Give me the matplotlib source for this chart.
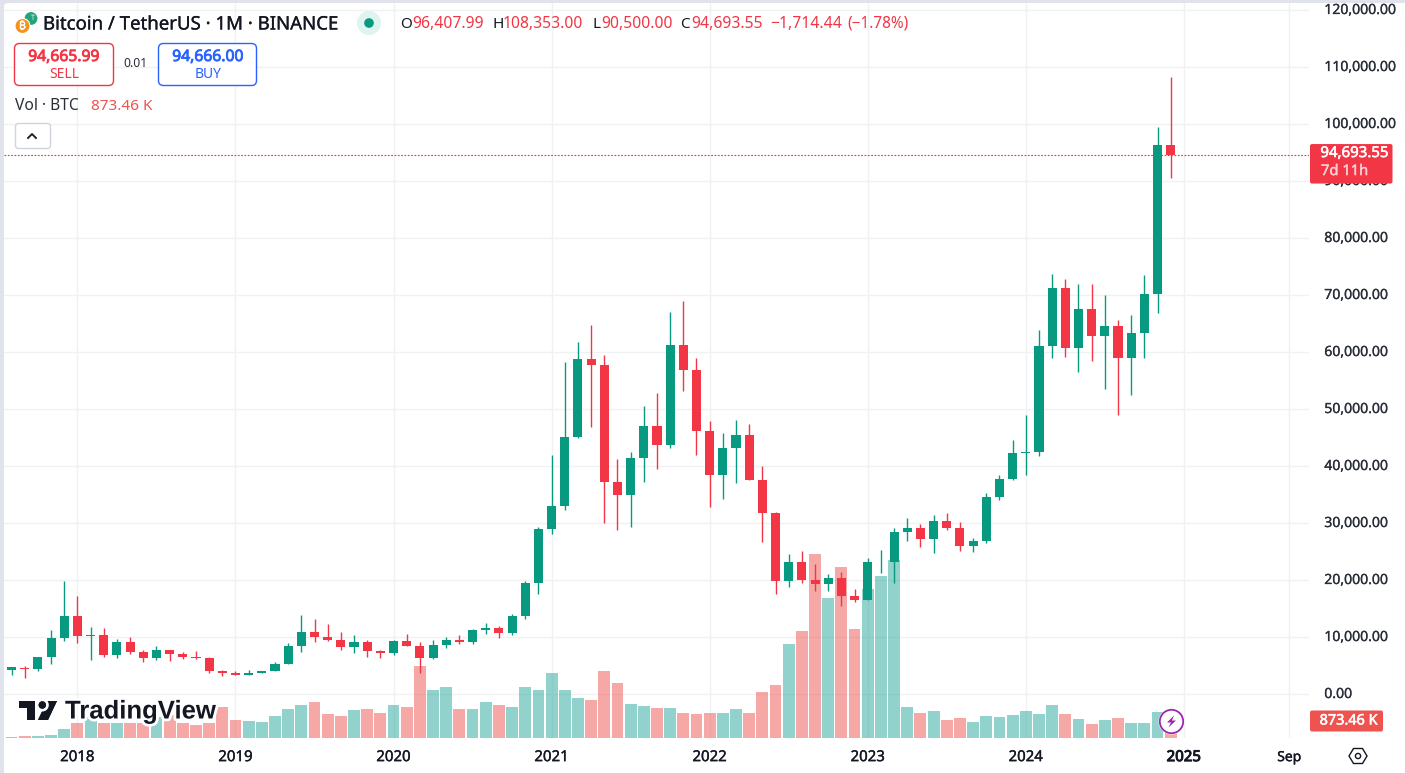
import matplotlib
matplotlib.use("Agg")
import matplotlib.pyplot as plt
import matplotlib.patheffects as pe
from matplotlib.patches import Circle, FancyBboxPatch, Polygon
from matplotlib.transforms import ScaledTranslation

plt.rcParams["font.family"] = ["Noto Sans", "DejaVu Sans"]

# monthly candles, first one is Aug 2017, last one Dec 2024
opens = [4261, 4689, 4378, 6463, 9838,
         13715, 10285, 10325, 6922, 9246, 7485, 6391, 7730, 7011, 6626, 6369, 4041,
         3701, 3434, 3814, 4102, 5321, 8555, 10854, 10080, 9600, 8289, 9199, 7546,
         7195, 9351, 8523, 6412, 8620, 9448, 9138, 11335, 11649, 10776, 13791, 19608,
         28923, 33092, 45134, 58739, 57697, 37253, 35045, 41461, 47100, 43820, 61300, 56950,
         46216, 38466, 43160, 45510, 37630, 31801, 19942, 23297, 20048, 19422, 20490, 17165,
         16541, 23125, 23141, 28465, 29233, 27210, 30471, 29232, 25940, 26962, 34639, 37723,
         42283, 42580, 61130, 71280, 60672, 67540, 62772, 64628, 58974, 63327, 70292, 96408]
highs = [4745, 4939, 6470, 11300, 19798,
         17176, 11786, 11710, 9759, 10020, 7786, 8491, 7750, 7410, 7680, 6615, 4233,
         4069, 4198, 4121, 5600, 9074, 13970, 13147, 12325, 10905, 10370, 9513, 7750,
         9578, 10500, 9188, 9460, 10067, 10380, 11444, 12468, 12050, 14100, 19863, 29300,
         41950, 58352, 61844, 64854, 59500, 41330, 42448, 50500, 52920, 67000, 69000, 59053,
         47990, 45821, 48190, 47444, 40023, 31982, 24668, 25202, 22799, 21085, 21480, 18387,
         23960, 25250, 29184, 31000, 29820, 31431, 31804, 30244, 27483, 35280, 38450, 44700,
         48970, 64000, 73777, 72797, 71979, 71980, 70079, 65660, 66498, 73620, 99588, 108353]
lows = [3400, 2817, 4110, 5325, 9380,
        9035, 6000, 6600, 6430, 7032, 5750, 6070, 5880, 6111, 6205, 3652, 3156,
        3349, 3373, 3670, 4096, 5278, 7440, 9111, 9320, 7710, 7300, 6515, 6435,
        6901, 8445, 3782, 6150, 8117, 8833, 8893, 10518, 9825, 10437, 13195, 17572,
        28130, 32296, 44950, 46930, 30000, 28805, 29278, 37332, 39600, 43283, 53256, 41967,
        32917, 34322, 37155, 37578, 26700, 17622, 18781, 19520, 18125, 18190, 15476, 16256,
        16499, 21351, 19549, 26942, 25811, 24800, 28861, 25166, 24901, 26538, 34097, 37615,
        38555, 41884, 59005, 59191, 56552, 58402, 53485, 49000, 52550, 58946, 66835, 90500]
closes = [4724, 4378, 6463, 9838, 13716,
          10285, 10326, 6923, 9246, 7485, 6390, 7730, 7011, 6626, 6371, 4041, 3702,
          3434, 3813, 4103, 5320, 8555, 10854, 10080, 9600, 8293, 9199, 7546, 7195,
          9352, 8523, 6410, 8620, 9448, 9138, 11335, 11649, 10776, 13791, 19608, 28923,
          33092, 45137, 58740, 57694, 37253, 35045, 41461, 47100, 43824, 61299, 56950, 46216,
          38466, 43160, 45510, 37630, 31801, 19942, 23293, 20050, 19422, 20490, 17164, 16542,
          23125, 23141, 28465, 29233, 27210, 30472, 29232, 25940, 26962, 34639, 37723, 42283,
          42580, 61130, 71280, 60672, 67540, 62772, 64628, 58974, 63327, 70292, 96408, 94693.55]
# volume in thousands of BTC
volumes = [51, 103, 103, 154, 462,
           771, 1079, 771, 771, 771, 771, 1079, 1182, 771, 668, 771, 1593,
           925, 873, 822, 1130, 1490, 1696, 1850, 1233, 1130, 1439, 1490, 1285,
           1696, 1593, 3700, 2466, 2620, 1490, 1490, 1850, 1696, 1593, 2620, 2466,
           3340, 2466, 2055, 1952, 3442, 2826, 1747, 1644, 1541, 1541, 1285, 1233,
           1285, 1285, 1490, 1285, 2363, 2723, 4830, 5498, 9454, 7193, 8786, 5600,
           7656, 8324, 9146, 1593, 1285, 1387, 925, 1028, 822, 1130, 1079, 1182,
           1387, 1233, 1696, 1233, 976, 719, 925, 1028, 771, 771, 1336, 873.46]

year_ticks = [0, 12, 24, 36, 48, 60, 72, 84, 92]
year_labels = ["2018", "2019", "2020", "2021", "2022", "2023", "2024", "2025", "Sep"]
price_ticks = [0, 10000, 20000, 30000, 40000, 50000, 60000, 70000, 80000, 90000, 100000, 110000, 120000]

GREEN = "#089981"
RED = "#f23645"
VOL_GREEN = "#26a69a"
VOL_RED = "#ef5350"
GRID = "#f0f1f3"
TEXT = "#131722"

months = list(range(-5, 84))
up = [c >= o for o, c in zip(opens, closes)]

W, H = 1405, 773
fig = plt.figure(figsize=(W / 100, H / 100), dpi=100, facecolor="#e0e3eb")
rect = [4 / W, (H - 738) / H, (1309 - 4) / W, (738 - 3) / H]
xlim = (-5.573, 93.5)
ylim = (-7667, 121281)

# white page behind everything, the strip is left and on top only
fig.add_artist(FancyBboxPatch((4 / W, -0.1), 1.1, (H - 3) / H + 0.1, transform=fig.transFigure,
                              boxstyle="round,pad=0,rounding_size=0.004", fc="white", ec="none", zorder=-1))


def fake_bold(color, w=0.45):
    return [pe.withStroke(linewidth=w, foreground=color)]


ax = fig.add_axes(rect, zorder=1)
ax.patch.set_visible(False)
ax.set_xlim(xlim)
ax.set_ylim(ylim)
for s in ax.spines.values():
    s.set_visible(False)
ax.set_xticks(year_ticks)
ax.set_xticklabels(year_labels, fontsize=10.8, color=TEXT)
ax.tick_params(axis="x", length=0, pad=8)
ax.yaxis.tick_right()
ax.set_yticks(price_ticks)
ax.set_yticklabels([format(p, ",.2f") for p in price_ticks], fontsize=10.1, color="#2a2e39")
ax.tick_params(axis="y", length=0, pad=11)
ax.grid(True, color=GRID, lw=1)
ax.set_axisbelow(True)
for i, t in enumerate(ax.get_xticklabels()):
    t.set_path_effects(fake_bold(TEXT, 0.7 if i == 7 else 0.25))
    t.set_transform(t.get_transform() + ScaledTranslation(0, -0.01, fig.dpi_scale_trans))
ax.get_xticklabels()[8].set_fontsize(10)
for t in ax.get_yticklabels():
    t.set_path_effects(fake_bold("#2a2e39", 0.2))
    t.set_transform(t.get_transform() + ScaledTranslation(0, 0.018, fig.dpi_scale_trans))

# volume pane
ax_vol = fig.add_axes(rect, zorder=2)
ax_vol.patch.set_visible(False)
ax_vol.axis("off")
ax_vol.set_xlim(xlim)
ax_vol.set_ylim(0, 735 * 51.38)
ax_vol.bar(months, volumes, width=0.9, lw=0, alpha=0.5,
           color=[VOL_GREEN if u else VOL_RED for u in up])

# candles on top of the volume
ax_c = fig.add_axes(rect, zorder=3)
ax_c.patch.set_visible(False)
ax_c.axis("off")
ax_c.set_xlim(xlim)
ax_c.set_ylim(ylim)
colors = [GREEN if u else RED for u in up]
ax_c.vlines(months, lows, highs, colors=colors, lw=1.0, snap=True)
ax_c.bar(months, [abs(c - o) for o, c in zip(opens, closes)], bottom=[min(o, c) for o, c in zip(opens, closes)],
         width=0.69, color=colors, lw=0)
ax_c.plot(xlim, [closes[-1], closes[-1]], color=RED, lw=0.8, ls=(0, (1.6, 1.4)), snap=True, dash_capstyle="butt")

# overlay in pixel coords for the legend, tags and logo
ov = fig.add_axes([0, 0, 1, 1], zorder=5)
ov.patch.set_visible(False)
ov.axis("off")
ov.set_xlim(0, W)
ov.set_ylim(H, 0)


def label(x, y, s, color=TEXT, size=10, bold=0, **kw):
    kw.setdefault("va", "center")
    kw.setdefault("ha", "left")
    if bold:
        kw["path_effects"] = fake_bold(color, bold)
    return ov.text(x, y, s, color=color, fontsize=size, **kw)


def box(x0, y0, x1, y1, fc="white", ec="none", r=3, lw=1.0):
    ov.add_patch(FancyBboxPatch((x0, y0), x1 - x0, y1 - y0, boxstyle="round,pad=0,rounding_size=%s" % r,
                                fc=fc, ec=ec, lw=lw))


# header
ov.add_patch(Circle((31, 18.5), 7, fc="#26a17b", ec="white", lw=0.8))
label(33, 18, "T", "white", 5, ha="center", bold=0.2)
ov.add_patch(Circle((22.5, 26), 7.5, fc="#f7931a", ec="white", lw=0.8))
label(22.5, 26, "₿", "white", 7.5, ha="center", family=["Inter", "Roboto", "Open Sans", "Lato", "DejaVu Sans"], bold=0.3)
label(43, 24.5, "Bitcoin / TetherUS · 1M · BINANCE", TEXT, 13.4, bold=0.2)
ov.add_patch(Circle((369, 23), 12, fc="#dff3ef", ec="none"))
ov.add_patch(Circle((369, 23), 4.8, fc=GREEN, ec="none"))

ohlc = [(400, "O", 412, "96,407.99"), (492, "H", 503, "108,353.00"),
        (592, "L", 601, "90,500.00"), (680, "C", 691, "94,693.55")]
for xl, ch, xv, val in ohlc:
    label(xl, 24, ch, TEXT, 11)
    label(xv, 24, val, RED, 11.3)
label(770, 24, "−1,714.44", RED, 11.3)
label(847, 24, "(−1.78%)", RED, 11.1)

box(14.5, 43.5, 113.5, 85.5, ec=RED, r=5)
label(64, 57, "94,665.99", RED, 11.3, ha="center", bold=0.6)
label(64, 74, "SELL", RED, 10, ha="center")
label(135, 63.5, "0.01", "#2a2e39", 8.8, ha="center")
box(158.5, 43.5, 256.5, 85.5, ec="#2962ff", r=5)
label(208, 57, "94,666.00", "#2962ff", 11.3, ha="center", bold=0.6)
label(208, 74, "BUY", "#2962ff", 10, ha="center")

label(15, 106, "Vol · BTC", "#2a2e39", 11.2)
label(91, 106, "873.46 K", VOL_RED, 11)
box(15.5, 123.5, 50.5, 148.5, ec="#d1d4dc", r=3)
ov.plot([28, 32, 36], [138, 134, 138], color=TEXT, lw=1.3)

# price and volume tags
y_last = H - ax.transData.transform((0, closes[-1]))[1]
ov.add_patch(FancyBboxPatch((1310, y_last - 10.5), 82.5, 39.5, boxstyle="round,pad=0,rounding_size=2", fc=RED, ec="none"))
label(1354.5, y_last - 1, format(closes[-1], ",.2f"), "white", 10.8, ha="center", bold=0.4)
label(1321, y_last + 17, "7d 11h", "#fbd0d4", 10.6, bold=0.3)

y_vol = H - ax_vol.transData.transform((0, volumes[-1]))[1]
ov.add_patch(FancyBboxPatch((1310, y_vol - 10.5), 73, 21, boxstyle="round,pad=0,rounding_size=2", fc=VOL_RED, ec="none"))
label(1348.5, y_vol, "873.46 K", "white", 10.4, ha="center", bold=0.4)

# TradingView watermark
halo = [pe.withStroke(linewidth=4, foreground="white")]
for pts in ([(19, 701), (35, 701), (35, 720), (27, 720), (27, 708), (19, 708)],
            [(47, 701), (57, 701), (48, 720), (38, 720)]):
    p = Polygon(pts, fc="#131722", ec="none")
    p.set_path_effects(halo + [pe.Normal()])
    ov.add_patch(p)
dot = Circle((42.3, 705), 3.7, fc="#131722", ec="none")
dot.set_path_effects(halo + [pe.Normal()])
ov.add_patch(dot)
label(65, 711.5, "TradingView", "#131722", 18.5, family=["Liberation Sans"], weight="bold",
      path_effects=halo)

# lightning badge on the last bar
ov.add_patch(Circle((1171.5, 721.5), 13, fc="white", ec="none"))
ov.add_patch(Circle((1171.5, 721.5), 11.7, fc="white", ec="#9c27b0", lw=1.3))
ov.add_patch(Polygon([(1174, 715.5), (1167, 722.5), (1171, 722.5), (1168.5, 727.5), (1176, 720.5), (1172, 720.5)],
                     fc="#9c27b0", ec="none"))

# settings button
ov.add_patch(Polygon([(1349, 756), (1353.5, 748.5), (1362.5, 748.5), (1367, 756), (1362.5, 763.5), (1353.5, 763.5)],
                     fc="none", ec=TEXT, lw=1.0))
ov.add_patch(Circle((1358, 756), 2.6, fc="none", ec=TEXT, lw=1.0))

fig.savefig("out.png", dpi=100, facecolor=fig.get_facecolor())
